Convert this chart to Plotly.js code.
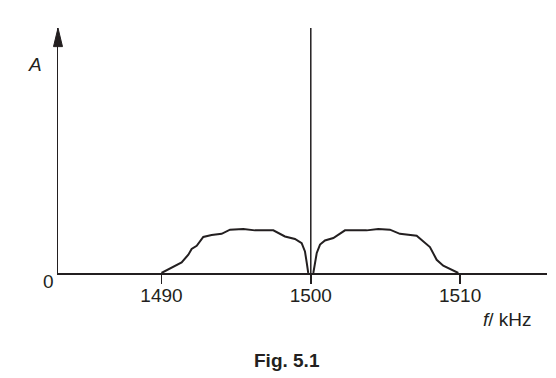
<!DOCTYPE html>
<html>
<head>
<meta charset="utf-8">
<script src="https://cdn.plot.ly/plotly-3.0.1.min.js"></script>
<style>html,body{margin:0;padding:0;background:#fff;}#chart{width:556px;height:378px;}</style>
</head>
<body>
<div id="chart"></div>
<script>
// Data (frequency in kHz, amplitude relative to carrier = 1)
const lowerF = [1490.0, 1490.68, 1491.35, 1491.80, 1492.02, 1492.36, 1492.80, 1493.36, 1494.03, 1494.59, 1495.48, 1496.26, 1497.49, 1498.27, 1498.94, 1499.39, 1499.61, 1499.73, 1499.83];
const lowerA = [0, 0.020, 0.043, 0.075, 0.098, 0.111, 0.147, 0.155, 0.160, 0.177, 0.180, 0.174, 0.174, 0.149, 0.139, 0.122, 0.088, 0.041, 0];
const upperF = [1500.17, 1500.40, 1500.62, 1500.95, 1501.51, 1502.29, 1503.74, 1504.52, 1505.30, 1505.97, 1507.09, 1507.65, 1507.98, 1508.43, 1508.87, 1509.88];
const upperA = [0, 0.082, 0.116, 0.133, 0.143, 0.174, 0.174, 0.180, 0.177, 0.160, 0.152, 0.122, 0.106, 0.054, 0.030, 0];
const carrierF = [1500, 1500];
const carrierA = [0, 1.0];
const tickVals = [1490, 1500, 1510];
const tickText = ['1490', '1500', '1510'];

const ink = '#231f20';
const lineStyle = {color: ink, width: 2, shape: 'linear'};
const traces = [
  {x: lowerF, y: lowerA, mode: 'lines', line: lineStyle, hoverinfo: 'skip'},
  {x: upperF, y: upperA, mode: 'lines', line: lineStyle, hoverinfo: 'skip'},
  {x: carrierF, y: carrierA, mode: 'lines', line: {color: ink, width: 1.5}, hoverinfo: 'skip'}
];

const font = {family: 'Liberation Sans, Arial, sans-serif', size: 19, color: ink};
const ann = (x, y, text, extra) => Object.assign({xref: 'paper', yref: 'paper', x: x, y: y, text: text,
  showarrow: false, xanchor: 'center', yanchor: 'middle', font: font}, extra || {});
const layout = {
  width: 556, height: 378,
  margin: {l: 58, r: 9, t: 28, b: 105},
  paper_bgcolor: '#fff', plot_bgcolor: '#fff',
  showlegend: false,
  font: font,
  xaxis: {
    range: [1483.07, 1515.82],
    tickvals: tickVals, ticktext: tickText,
    ticks: 'outside', ticklen: 9, tickwidth: 1.5, tickcolor: ink,
    ticklabelstandoff: -4,
    showline: true, linecolor: ink, linewidth: 1.5,
    showgrid: false, zeroline: false, fixedrange: true,
    tickfont: font
  },
  yaxis: {
    range: [0, 1.0],
    showticklabels: false, ticks: '',
    showline: true, linecolor: ink, linewidth: 1.5,
    showgrid: false, zeroline: false, fixedrange: true
  },
  shapes: [
    {type: 'path', xref: 'paper', yref: 'paper',
     path: 'M -0.0092 0.924 L 0 1.0 L 0.0092 0.924 Z',
     fillcolor: ink, line: {color: ink, width: 1}}
  ],
  annotations: [
    ann(-0.047, 0.85, '<i>A</i>'),
    ann(-0.0204, -0.0355, '0'),
    ann(0.920, -0.188, '<i>f</i>/ kHz'),
    ann(0.468, -0.358, '<b>Fig. 5.1</b>')
  ]
};
Plotly.newPlot('chart', traces, layout, {staticPlot: true, displayModeBar: false});
</script>
</body>
</html>
